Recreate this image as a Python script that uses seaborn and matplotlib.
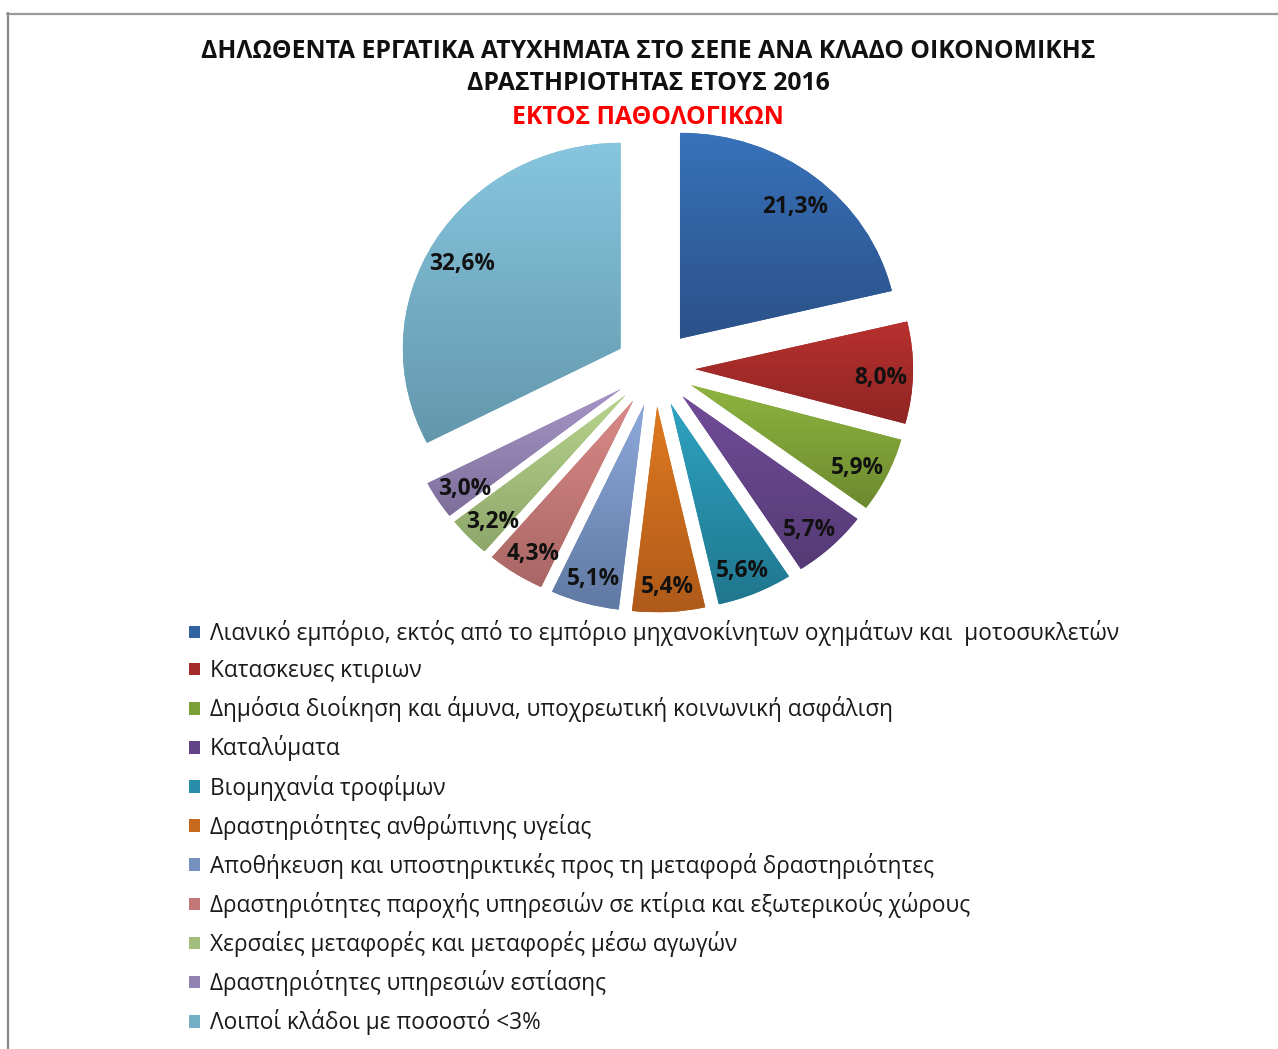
import numpy as np
import matplotlib
matplotlib.use("Agg")
import matplotlib.pyplot as plt
import matplotlib.transforms as mtransforms
import seaborn as sns
from matplotlib.patches import Patch
from matplotlib.lines import Line2D
from matplotlib.colors import to_rgb

sns.set_theme(style="white")
plt.rcParams['font.family'] = ['Open Sans', 'DejaVu Sans']

categories = [
    "Λιανικό εμπόριο, εκτός από το εμπόριο μηχανοκίνητων οχημάτων και  μοτοσυκλετών",
    "Κατασκευες κτιριων",
    "Δημόσια διοίκηση και άμυνα, υποχρεωτική κοινωνική ασφάλιση",
    "Καταλύματα",
    "Βιομηχανία τροφίμων",
    "Δραστηριότητες ανθρώπινης υγείας",
    "Αποθήκευση και υποστηρικτικές προς τη μεταφορά δραστηριότητες",
    "Δραστηριότητες παροχής υπηρεσιών σε κτίρια και εξωτερικούς χώρους",
    "Χερσαίες μεταφορές και μεταφορές μέσω αγωγών",
    "Δραστηριότητες υπηρεσιών εστίασης",
    "Λοιποί κλάδοι με ποσοστό <3%",
]
values = [21.3, 8.0, 5.9, 5.7, 5.6, 5.4, 5.1, 4.3, 3.2, 3.0, 32.6]
pct_labels = ["21,3%", "8,0%", "5,9%", "5,7%", "5,6%", "5,4%", "5,1%", "4,3%", "3,2%", "3,0%", "32,6%"]
top_colors = ["#3872BA", "#B8312F", "#8FB440", "#714C98", "#2EA3C1", "#E07A20",
              "#8DA9DB", "#DA8A88", "#B8D48D", "#A696C7", "#87C6DF"]
bottom_colors = ["#2B5188", "#8E2523", "#6B8A2F", "#553A75", "#20768E", "#AE5A1A",
                 "#6079A3", "#A86664", "#8DA66A", "#7E6E9A", "#6397AB"]
title_lines = ["ΔΗΛΩΘΕΝΤΑ ΕΡΓΑΤΙΚΑ ΑΤΥΧΗΜΑΤΑ ΣΤΟ ΣΕΠΕ ΑΝΑ ΚΛΑΔΟ ΟΙΚΟΝΟΜΙΚΗΣ",
               "ΔΡΑΣΤΗΡΙΟΤΗΤΑΣ ΕΤΟΥΣ 2016"]
subtitle = "ΕΚΤΟΣ ΠΑΘΟΛΟΓΙΚΩΝ"

W, H = 1278, 1049
fig = plt.figure(figsize=(W / 100, H / 100), dpi=100)
fig.patch.set_facecolor("white")

mid_colors = [tuple((np.array(to_rgb(a)) + np.array(to_rgb(b))) / 2)
              for a, b in zip(top_colors, bottom_colors)]
palette = sns.color_palette(mid_colors)

# pie axes: centre (655,368) px, slightly wider than tall as in the reference
cx, cy, rx, ry = 655, 368.5, 217.8, 205.8
hx, hy = 1.3 * rx, 1.3 * ry
ax = fig.add_axes([(cx - hx) / W, (H - cy - hy) / H, 2 * hx / W, 2 * hy / H])

lab_iter = iter(pct_labels)
wedges, texts, autotexts = ax.pie(
    values, startangle=90, counterclock=False, explode=[0.185] * len(values),
    colors=palette, autopct=lambda p: next(lab_iter), pctdistance=0.85,
    wedgeprops=dict(linewidth=0),
    textprops=dict(fontsize=16.3, fontweight="bold", color="#111111"))

for w, tc, bc in zip(wedges, top_colors, bottom_colors):
    ext = w.get_path().get_extents(w.get_patch_transform())
    t = np.linspace(0, 1, 256)[:, None, None]
    img = (1 - t) * np.array(to_rgb(tc))[None, None, :] + t * np.array(to_rgb(bc))[None, None, :]
    im = ax.imshow(img, extent=[ext.x0, ext.x1, ext.y0, ext.y1], origin="upper",
                   aspect="auto", zorder=w.get_zorder() + 0.1, interpolation="bilinear")
    im.set_clip_path(w)
shift = mtransforms.offset_copy(ax.transData, fig=fig, x=0, y=-6, units="dots")
for t in autotexts:
    t.set_zorder(10)
    t.set_transform(shift)

ax.set_aspect("auto")
ax.set_xlim(-1.3, 1.3)
ax.set_ylim(-1.3, 1.3)
ax.axis("off")

# titles
fig.text(648 / W, 1 - 51 / H, title_lines[0], ha="center", va="center",
         fontsize=17.8, fontweight="bold", color="#111111")
fig.text(648 / W, 1 - 84 / H, title_lines[1], ha="center", va="center",
         fontsize=17.8, fontweight="bold", color="#111111")
fig.text(648 / W, 1 - 117 / H, subtitle, ha="center", va="center",
         fontsize=17.8, fontweight="bold", color="#FF0000")

# legend
handles = [Patch(facecolor=c, edgecolor="none") for c in mid_colors]
leg = fig.legend(handles, categories, loc="upper left",
                 bbox_to_anchor=(189 / W, 1 - 620 / H), frameon=False,
                 fontsize=16.3, handlelength=0.48, handleheight=0.48,
                 handletextpad=0.45, labelspacing=0.58, borderaxespad=0,
                 borderpad=0)
for t in leg.get_texts():
    t.set_color("#1a1a1a")

# outer frame (partially visible)
fig.add_artist(Line2D([7 / W, 1.0], [1 - 13.5 / H, 1 - 13.5 / H], color="#9a9a9a",
                      linewidth=1.6, transform=fig.transFigure))
fig.add_artist(Line2D([7.5 / W, 7.5 / W], [1 - 13 / H, 0.0], color="#8a8a8a",
                      linewidth=1.6, transform=fig.transFigure))

fig.savefig("out.png", dpi=100)
